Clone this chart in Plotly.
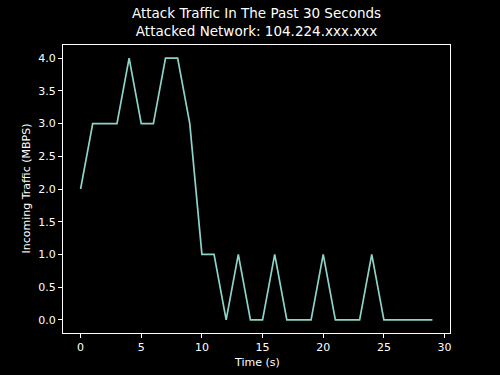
import plotly.graph_objects as go

time_s = list(range(30))
traffic = [2, 3, 3, 3, 4, 3, 3, 4, 4, 3, 1, 1, 0, 1, 0, 0, 1, 0, 0, 0, 1, 0, 0, 0, 1, 0, 0, 0, 0, 0]
x_ticks = [0, 5, 10, 15, 20, 25, 30]
y_ticks = [0.0, 0.5, 1.0, 1.5, 2.0, 2.5, 3.0, 3.5, 4.0]

fig = go.Figure()
fig.add_trace(go.Scatter(x=time_s, y=traffic, mode="lines",
                         line=dict(color="#8dd3c7", width=1.7)))

axis_common = dict(showgrid=False, zeroline=False, showline=True, linecolor="white",
                   linewidth=1, mirror=True, ticks="outside", ticklen=4, tickwidth=1,
                   tickcolor="white", tickfont=dict(color="white", size=11), automargin=False)

fig.update_xaxes(range=[-1.45, 30.45], tickvals=x_ticks, ticktext=[str(v) for v in x_ticks],
                 **axis_common)
fig.update_yaxes(range=[-0.2, 4.2], tickvals=y_ticks, ticktext=[f"{v:.1f}" for v in y_ticks],
                 **axis_common)

fig.add_annotation(text="Time (s)", xref="paper", yref="paper", x=0.5, y=0,
                   xanchor="center", yanchor="top", yshift=-21, showarrow=False,
                   font=dict(color="white", size=11))
fig.add_annotation(text="Incoming Traffic (MBPS)", xref="paper", yref="paper", x=0, y=0.5,
                   xanchor="right", yanchor="middle", xshift=-29, textangle=-90, showarrow=False,
                   font=dict(color="white", size=11))

fig.add_annotation(text="Attack Traffic In The Past 30 Seconds<br>Attacked Network: 104.224.xxx.xxx",
                   xref="paper", yref="paper", x=0.5, y=1, xanchor="center", yanchor="bottom",
                   yshift=4, showarrow=False, font=dict(color="white", size=13.5))

fig.update_layout(width=500, height=375, margin=dict(l=63, r=50, t=45, b=42),
                  paper_bgcolor="black", plot_bgcolor="black", showlegend=False,
                  font=dict(family="DejaVu Sans", color="white"))

fig.write_html("out.html")
